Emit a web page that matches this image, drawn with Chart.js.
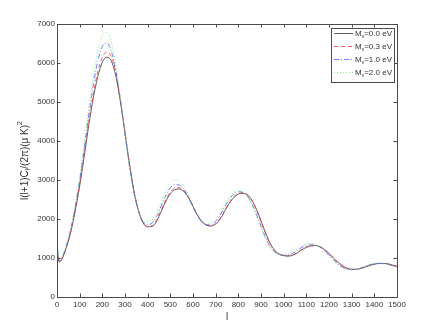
<!DOCTYPE html>
<html>
<head>
<meta charset="utf-8">
<script src="https://cdn.jsdelivr.net/npm/chart.js@4.4.0/dist/chart.umd.min.js"></script>
<style>
  html, body { margin: 0; padding: 0; background: #fff; }
</style>
</head>
<body>
<canvas id="cmbChart" width="436" height="332"></canvas>
<script>
// multipole l
const multipoles = [2, 10, 20, 40, 60, 80, 100, 120, 140, 160, 180, 200, 220, 240, 260, 280, 300, 320, 340, 360, 380, 400, 420, 440, 460, 480, 500, 520, 540, 560, 580, 600, 620, 640, 660, 680, 700, 720, 740, 760, 780, 800, 820, 840, 860, 880, 900, 920, 940, 960, 980, 1000, 1020, 1040, 1060, 1080, 1100, 1120, 1140, 1160, 1180, 1200, 1220, 1240, 1260, 1280, 1300, 1320, 1340, 1360, 1380, 1400, 1420, 1440, 1460, 1480, 1500];

// l(l+1)C_l/2pi for each neutrino mass
const clMass00 = [1150, 900, 950, 1250, 1650, 2200, 2850, 3600, 4400, 5100, 5650, 6020, 6150, 6050, 5650, 5000, 4200, 3400, 2700, 2200, 1900, 1800, 1810, 1950, 2200, 2450, 2650, 2750, 2770, 2700, 2550, 2320, 2100, 1930, 1840, 1820, 1870, 2000, 2200, 2400, 2550, 2640, 2660, 2620, 2480, 2250, 1950, 1650, 1380, 1200, 1100, 1060, 1050, 1070, 1130, 1210, 1270, 1310, 1320, 1290, 1220, 1120, 1000, 890, 800, 740, 710, 710, 730, 770, 810, 840, 860, 860, 850, 820, 790];
const clMass03 = [1180, 900, 960, 1260, 1670, 2230, 2890, 3660, 4480, 5200, 5770, 6150, 6280, 6150, 5720, 5040, 4220, 3400, 2700, 2200, 1900, 1810, 1830, 1980, 2240, 2490, 2690, 2790, 2800, 2720, 2560, 2330, 2100, 1930, 1840, 1830, 1890, 2020, 2220, 2420, 2570, 2660, 2670, 2620, 2470, 2230, 1930, 1630, 1370, 1190, 1100, 1060, 1055, 1080, 1140, 1220, 1280, 1320, 1320, 1290, 1210, 1110, 990, 880, 790, 735, 710, 710, 735, 775, 815, 845, 860, 860, 845, 815, 785];
const clMass10 = [1250, 920, 980, 1290, 1720, 2300, 3000, 3800, 4660, 5420, 6050, 6430, 6510, 6300, 5780, 5040, 4180, 3350, 2670, 2200, 1930, 1860, 1900, 2070, 2340, 2600, 2800, 2880, 2870, 2760, 2560, 2310, 2080, 1920, 1850, 1860, 1940, 2100, 2310, 2500, 2640, 2700, 2680, 2580, 2390, 2120, 1820, 1530, 1300, 1160, 1090, 1070, 1080, 1120, 1190, 1270, 1320, 1340, 1330, 1280, 1190, 1070, 950, 840, 760, 715, 700, 710, 740, 785, 825, 850, 860, 855, 835, 800, 770];
const clMass20 = [1300, 940, 1000, 1320, 1770, 2380, 3100, 3950, 4850, 5650, 6320, 6720, 6790, 6520, 5920, 5100, 4180, 3320, 2650, 2210, 1970, 1920, 1980, 2170, 2450, 2720, 2930, 3010, 2980, 2850, 2620, 2350, 2110, 1950, 1890, 1910, 2000, 2170, 2380, 2560, 2690, 2740, 2700, 2580, 2360, 2070, 1760, 1480, 1270, 1150, 1090, 1080, 1100, 1150, 1230, 1310, 1360, 1370, 1350, 1290, 1190, 1060, 930, 820, 740, 705, 700, 715, 750, 795, 835, 860, 865, 855, 830, 795, 760];

const massLabels = ["0.0", "0.3", "1.0", "2.0"];
const xTicks = [0, 100, 200, 300, 400, 500, 600, 700, 800, 900, 1000, 1100, 1200, 1300, 1400, 1500];
const yTicks = [0, 1000, 2000, 3000, 4000, 5000, 6000, 7000];

const textColor = "#333333";
const axisColor = "#4a4a4a";
const fontFamily = "'Liberation Sans', Arial, sans-serif";

function toPoints(values) {
  return values.map((v, i) => ({ x: multipoles[i], y: v }));
}

const seriesStyles = [
  { color: "#3a3a3a", dash: [] },
  { color: "#ff3030", dash: [4, 3] },
  { color: "#4060ff", dash: [5, 2, 1, 2] },
  { color: "#66ee66", dash: [1, 2] },
];
const seriesValues = [clMass00, clMass03, clMass10, clMass20];

// box, inward ticks, y title and legend with sub/superscripts
const decorPlugin = {
  id: "decor",
  afterDraw(chart) {
    const { ctx, chartArea: a, scales } = chart;
    const x = scales.x, y = scales.y;
    ctx.save();
    ctx.strokeStyle = axisColor;
    ctx.lineWidth = 1;
    ctx.setLineDash([]);
    ctx.strokeRect(Math.round(a.left) + 0.5, Math.round(a.top) + 0.5,
      Math.round(a.right - a.left), Math.round(a.bottom - a.top));
    ctx.beginPath();
    xTicks.forEach((t) => {
      const px = Math.round(x.getPixelForValue(t)) + 0.5;
      ctx.moveTo(px, a.bottom); ctx.lineTo(px, a.bottom - 3.5);
      ctx.moveTo(px, a.top); ctx.lineTo(px, a.top + 3.5);
    });
    yTicks.forEach((t) => {
      const py = Math.round(y.getPixelForValue(t)) + 0.5;
      ctx.moveTo(a.left, py); ctx.lineTo(a.left + 3.5, py);
      ctx.moveTo(a.right, py); ctx.lineTo(a.right - 3.5, py);
    });
    ctx.stroke();

    // x title
    ctx.fillStyle = textColor;
    ctx.font = "10px " + fontFamily;
    ctx.textAlign = "center";
    ctx.textBaseline = "middle";
    ctx.fillText("l", (a.left + a.right) / 2, 317);

    // y title
    const parts = [
      { t: "l(l+1)C", s: 10, dy: 0 },
      { t: "l", s: 7, dy: 3 },
      { t: "/(2\u03c0)(\u03bc K)", s: 10, dy: 0 },
      { t: "2", s: 7, dy: -5 },
    ];
    ctx.save();
    ctx.translate(25, (a.top + a.bottom) / 2);
    ctx.rotate(-Math.PI / 2);
    ctx.textAlign = "left";
    let total = 0;
    parts.forEach((p) => { ctx.font = p.s + "px " + fontFamily; total += ctx.measureText(p.t).width; });
    let cx = -total / 2;
    parts.forEach((p) => {
      ctx.font = p.s + "px " + fontFamily;
      ctx.fillText(p.t, cx, p.dy);
      cx += ctx.measureText(p.t).width;
    });
    ctx.restore();

    // legend
    const lx = 331, ly = 28, lw = 63, lh = 54;
    ctx.fillStyle = "#fff";
    ctx.fillRect(lx, ly, lw, lh);
    ctx.strokeStyle = axisColor;
    ctx.strokeRect(lx + 0.5, ly + 0.5, lw, lh);
    chart.data.datasets.forEach((ds, i) => {
      const rowY = 33.5 + i * 13;
      ctx.strokeStyle = ds.borderColor;
      ctx.lineWidth = 0.8;
      ctx.setLineDash(ds.borderDash || []);
      ctx.beginPath();
      ctx.moveTo(334, rowY); ctx.lineTo(353, rowY);
      ctx.stroke();
      ctx.setLineDash([]);
      ctx.fillStyle = textColor;
      ctx.textBaseline = "middle";
      ctx.textAlign = "left";
      let tx = 355;
      ctx.font = "8px " + fontFamily;
      ctx.fillText("M", tx, rowY);
      tx += ctx.measureText("M").width;
      ctx.font = "5px " + fontFamily;
      ctx.fillText("\u03bd", tx, rowY + 3);
      tx += ctx.measureText("\u03bd").width;
      ctx.font = "8px " + fontFamily;
      ctx.fillText("=" + massLabels[i] + " eV", tx, rowY);
    });
    ctx.restore();
  },
};

const ctx = document.getElementById("cmbChart").getContext("2d");
new Chart(ctx, {
  type: "line",
  data: {
    datasets: seriesValues.map((vals, i) => ({
      label: "M_\u03bd=" + massLabels[i] + " eV",
      data: toPoints(vals),
      borderColor: seriesStyles[i].color,
      borderDash: seriesStyles[i].dash,
      borderWidth: 0.8,
      pointRadius: 0,
      tension: 0.4,
      cubicInterpolationMode: "monotone",
      fill: false,
      order: 4 - i,
    })),
  },
  options: {
    responsive: false,
    animation: false,
    layout: { padding: { left: 0, top: 24, right: 39, bottom: 0 } },
    plugins: {
      legend: { display: false },
      tooltip: { enabled: false },
    },
    scales: {
      x: {
        type: "linear",
        min: 0,
        max: 1500,
        afterBuildTicks: (s) => { s.ticks = xTicks.map((v) => ({ value: v })); },
        afterFit: (s) => { s.height = 35; },
        grid: { display: false, drawTicks: false },
        border: { display: false },
        ticks: {
          color: textColor, padding: 3, maxRotation: 0, autoSkip: false,
          font: { size: 8, family: fontFamily },
          callback: (value) => String(value),
        },
      },
      y: {
        type: "linear",
        min: 0,
        max: 7000,
        afterBuildTicks: (s) => { s.ticks = yTicks.map((v) => ({ value: v })); },
        afterFit: (s) => { s.width = 57; },
        grid: { display: false, drawTicks: false },
        border: { display: false },
        ticks: {
          color: textColor, padding: 2,
          font: { size: 8, family: fontFamily },
          callback: (value) => String(value),
        },
      },
    },
  },
  plugins: [decorPlugin],
});
</script>
</body>
</html>
